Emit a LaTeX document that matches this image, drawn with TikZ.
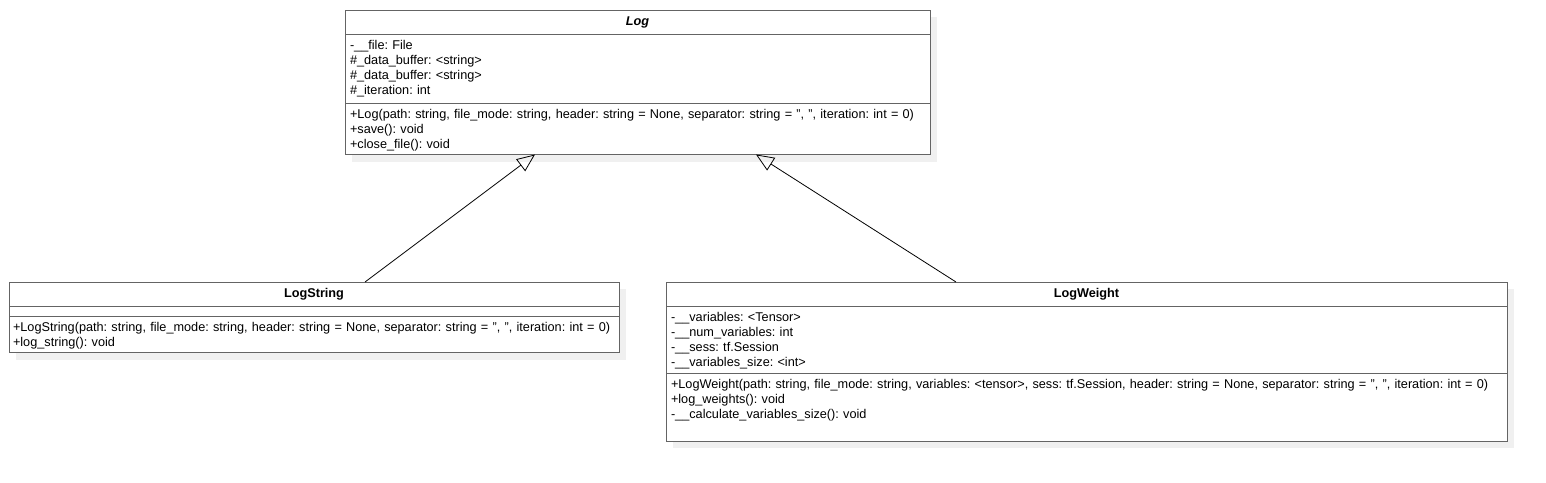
\documentclass[tikz,border=0pt]{standalone}
\usepackage{fontspec}
\setmainfont{Liberation Sans}
\usetikzlibrary{positioning,shadows,arrows.meta}
\definecolor{umlgray}{RGB}{100,100,100}
\definecolor{umlshadow}{RGB}{240,240,240}
\newcommand\umlfont{\fontsize{12.7}{15}\selectfont}
\frenchspacing
\tikzset{
  umlbox/.style={draw=umlgray, line width=1pt, fill=white, outer sep=0pt, inner xsep=5pt,
    font=\umlfont, drop shadow={shadow xshift=7pt, shadow yshift=-7pt, fill=umlshadow, opacity=1}},
  umlhead/.style={umlbox, minimum width=#1, minimum height=24.5pt, inner ysep=0pt, font=\umlfont\bfseries},
  umlpart/.style={umlbox, align=left, inner ysep=5.5pt, text height=9pt},
  umlempty/.style={umlbox, minimum width=#1, minimum height=10pt, inner sep=0pt},
  generalize/.style={-{Triangle[open, length=18pt, width=15pt]}, line width=0.8pt},
}
\begin{document}
\begin{tikzpicture}[x=1pt, y=-1pt]
    \useasboundingbox (0,0) rectangle (1546,482);
    \node[umlhead=585pt, anchor=north west] (log-head) at (345,10) {\textit{Log}};
    \node[umlpart, text width=575pt, text depth=49pt, below=0pt of log-head] (log-attr)
        {-\_\_file: File\\
         \#\_data\_buffer: <string>\\
         \#\_data\_buffer: <string>\\
         \#\_iteration: int};
    \node[umlpart, text width=575pt, text depth=31pt, below=0pt of log-attr] (log-meth)
        {+Log(path: string, file\_mode: string, header: string = None, separator: string = ", ", iteration: int = 0)\\
         +save(): void\\
         +close\_file(): void};

    \node[umlhead=610pt, anchor=north west] (ls-head) at (9,282) {LogString};
    \node[umlempty=610pt, below=0pt of ls-head] (ls-attr) {};
    \node[umlpart, inner xsep=4pt, text width=602pt, text depth=16pt, below=0pt of ls-attr] (ls-meth)
        {+LogString(path: string, file\_mode: string, header: string = None, separator: string = ", ", iteration: int = 0)\\
         +log\_string(): void};

    \node[umlhead=841pt, anchor=north west] (lw-head) at (666,282) {LogWeight};
    \node[umlpart, text width=831pt, text depth=47pt, below=0pt of lw-head] (lw-attr)
        {-\_\_variables: <Tensor>\\
         -\_\_num\_variables: int\\
         -\_\_sess: tf.Session\\
         -\_\_variables\_size: <int>};
    \node[umlpart, text width=831pt, text depth=47.5pt, below=0pt of lw-attr] (lw-meth)
        {+LogWeight(path: string, file\_mode: string, variables: <tensor>, sess: tf.Session, header: string = None, separator: string = ", ", iteration: int = 0)\\
         +log\_weights(): void\\
         -\_\_calculate\_variables\_size(): void};

    \draw[generalize] ([xshift=51pt]ls-head.north) -- ([xshift=-102.5pt]log-meth.south);
    \draw[generalize] ([xshift=-130.5pt]lw-head.north) -- ([xshift=118.5pt]log-meth.south);
\end{tikzpicture}
\end{document}
